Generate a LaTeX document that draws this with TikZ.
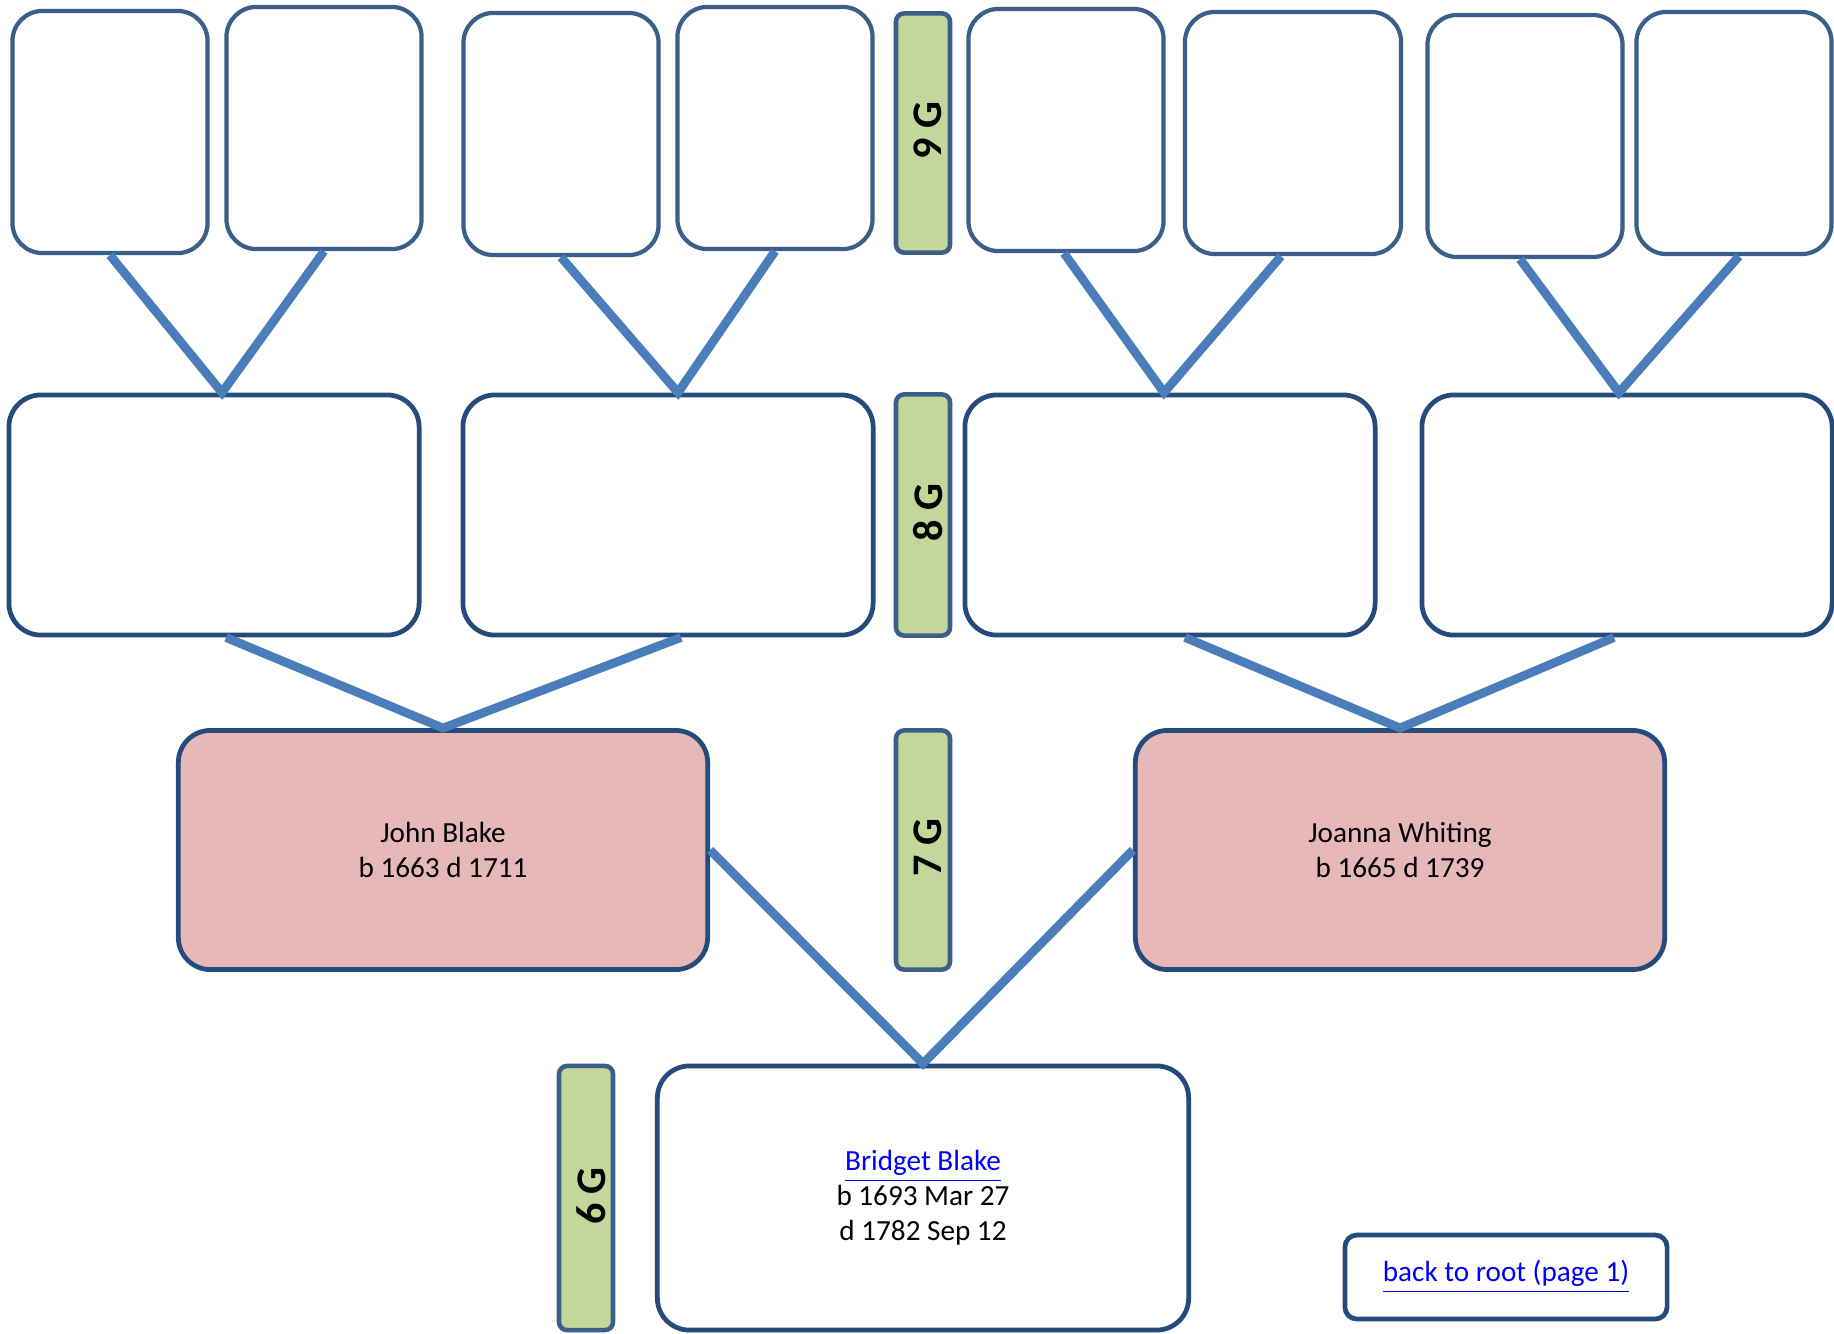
\documentclass[tikz,border=0pt]{standalone}
\usepackage{fontspec}
\setmainfont{Carlito}
\usepackage{tikz}
\usetikzlibrary{positioning}

\definecolor{edgeold}{HTML}{3A5F8B}
\definecolor{edgedark}{HTML}{254A7C}
\definecolor{linkblue}{HTML}{4A7EBB}
\definecolor{pinkfill}{HTML}{E6B8B7}
\definecolor{genfill}{HTML}{C4D79B}
\definecolor{hyper}{HTML}{0000FF}

\tikzset{
  person/.style={rectangle, rounded corners=0.32cm, draw=edgedark, line width=1.35pt,
    fill=white, align=center, font=\fontsize{8.3}{10}\selectfont},
  oldperson/.style={person, draw=edgeold, line width=1.2pt, rounded corners=0.3cm,
    minimum width=1.95cm, minimum height=2.42cm},
  midperson/.style={person, minimum width=4.1cm, minimum height=2.4cm},
  known/.style={person, fill=pinkfill, minimum width=5.29cm, minimum height=2.39cm},
  genbox/.style={rectangle, rounded corners=0.08cm, draw=edgeold, line width=1.3pt,
    fill=genfill, minimum width=0.54cm},
  gentext/.style={rotate=90, xshift=0.02cm, yshift=-0.05cm, font=\fontsize{12}{14}\selectfont\bfseries},
  link/.style={draw=linkblue, line width=2.5pt}
}

\begin{document}
\begin{tikzpicture}[x=0.01cm, y=-0.01cm]
  \useasboundingbox (0,0) rectangle (1834,1333);

  % 9th generation
  \node[oldperson] (g9a) at (110,132) {};
  \node[oldperson] (g9b) at (324,128) {};
  \node[oldperson] (g9c) at (561,134) {};
  \node[oldperson] (g9d) at (775,128) {};
  \node[oldperson] (g9e) at (1066,130) {};
  \node[oldperson, minimum width=2.16cm] (g9f) at (1293,133) {};
  \node[oldperson] (g9g) at (1525,136) {};
  \node[oldperson] (g9h) at (1734,133) {};

  % 8th generation
  \node[midperson] (g8a) at (214,515) {};
  \node[midperson] (g8b) at (668,515) {};
  \node[midperson] (g8c) at (1170,515) {};
  \node[midperson] (g8d) at (1627,515) {};

  % 7th generation
  \node[known] (john) at (443,850) {John Blake\\b 1663 d 1711};
  \node[known] (joanna) at (1400,850) {Joanna Whiting\\b 1665 d 1739};

  % 6th generation
  \node[person, minimum width=5.31cm, minimum height=2.64cm] (bridget) at (923,1198)
    {\textcolor{hyper}{\underline{Bridget Blake}}\\b 1693 Mar 27\\d 1782 Sep 12};
  \node[person, rounded corners=0.12cm, minimum width=3.22cm, minimum height=0.84cm] (root) at (1506,1277)
    {\raisebox{-0.06cm}{\textcolor{hyper}{\underline{back to root (page 1)}}}};

  % generation labels
  \node[genbox, minimum height=2.39cm] (gen9) at (923,133) {};
  \node[gentext] at (gen9) {9 G};
  \node[genbox, minimum height=2.41cm] (gen8) at (923,515) {};
  \node[gentext] at (gen8) {8 G};
  \node[genbox, minimum height=2.39cm] (gen7) at (923,850) {};
  \node[gentext] at (gen7) {7 G};
  \node[genbox, minimum height=2.64cm] (gen6) at (586,1198) {};
  \node[gentext] at (gen6) {6 G};

  % links
  \draw[link] (g9a.south) -- ([xshift=0.08cm]g8a.north) -- (g9b.south);
  \draw[link] (g9c.south) -- ([xshift=0.1cm]g8b.north) -- (g9d.south);
  \draw[link] ([xshift=-0.02cm]g9e.south) -- ([xshift=-0.06cm]g8c.north) -- ([xshift=-0.12cm]g9f.south);
  \draw[link] ([xshift=-0.05cm]g9g.south) -- ([xshift=-0.08cm]g8d.north) -- ([xshift=0.05cm]g9h.south);
  \draw[link] ([xshift=0.12cm]g8a.south) -- (john.north) -- ([xshift=0.13cm]g8b.south);
  \draw[link] ([xshift=0.15cm]g8c.south) -- (joanna.north) -- ([xshift=-0.13cm]g8d.south);
  \draw[link] (john.east) -- (bridget.north) -- (joanna.west);
\end{tikzpicture}
\end{document}
